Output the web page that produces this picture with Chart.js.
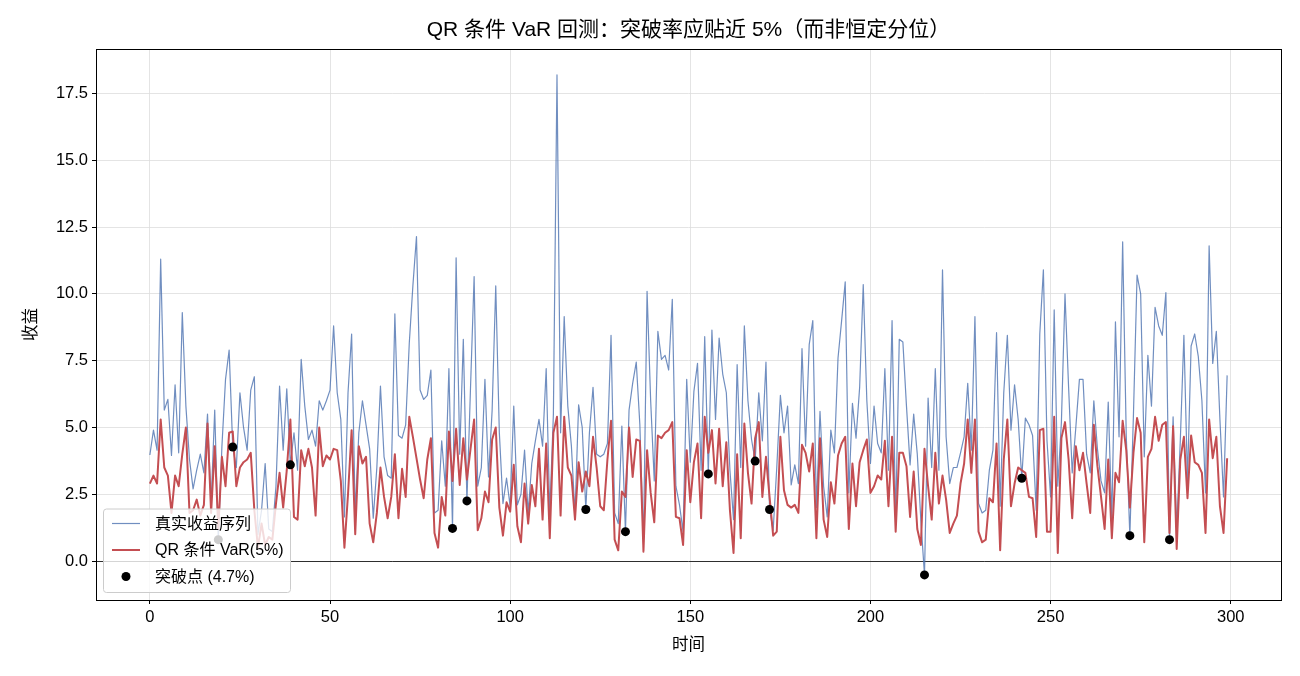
<!DOCTYPE html>
<html>
<head>
<meta charset="utf-8">
<script src="https://cdn.jsdelivr.net/npm/chart.js@4.4.1/dist/chart.umd.min.js"></script>
<style>
  html, body { margin: 0; padding: 0; background: #fff; }
  canvas { display: block; }
</style>
</head>
<body>
<canvas id="chart" width="1300" height="676"></canvas>
<script>
// 真实收益序列 (index 0..299)
const actual = [
  3.97, 4.9, 4.15, 11.3, 5.65, 6.05, 3.95, 6.6, 4.05, 9.3,
  5.8, 3.8, 2.7, 3.4, 4.0, 3.3, 5.5, 2.15, 5.65, 0.8,
  4.3, 6.8, 7.9, 4.27, 3.5, 6.3, 5.0, 4.15, 6.4, 6.9,
  1.0, 1.9, 3.65, 1.2, 1.1, 2.8, 6.55, 4.15, 6.45, 3.6,
  4.8, 3.4, 7.55, 5.8, 4.55, 4.9, 4.3, 6.0, 5.65, 6.0,
  6.4, 8.8, 6.3, 5.3, 1.65, 6.3, 8.5, 1.8, 4.8, 6.0,
  5.1, 4.2, 1.6, 3.5, 6.55, 3.9, 3.2, 3.1, 9.25, 4.7,
  4.6, 5.1, 8.15, 10.3, 12.15, 6.4, 6.05, 6.2, 7.15, 1.8,
  1.9, 4.5, 2.8, 7.2, 1.22, 11.35, 4.0, 8.3, 2.25, 6.5,
  10.65, 2.8, 3.5, 6.8, 3.15, 5.65, 10.3, 4.8, 2.15, 3.1,
  2.05, 5.8, 2.1, 2.5, 4.15, 1.8, 3.65, 4.5, 5.3, 4.3,
  7.2, 1.8, 5.5, 18.2, 4.8, 9.15, 5.8, 4.3, 1.75, 5.85,
  5.0, 1.93, 4.8, 6.5, 4.0, 3.9, 4.0, 4.4, 8.45, 1.8,
  1.4, 5.05, 1.1, 5.65, 6.65, 7.45, 5.1, 0.7, 10.1, 6.0,
  3.0, 8.6, 7.55, 7.7, 7.15, 9.8, 2.8, 2.1, 1.1, 6.8,
  3.7, 6.35, 7.4, 3.4, 8.4, 3.26, 8.65, 5.3, 8.35, 7.0,
  6.3, 3.4, 1.55, 7.35, 3.5, 8.8, 6.0, 4.55, 3.74, 6.3,
  4.5, 7.45, 1.93, 1.15, 3.5, 6.2, 4.8, 5.8, 2.85, 3.6,
  2.9, 7.95, 4.3, 8.1, 9.0, 2.0, 5.6, 2.8, 1.65, 4.9,
  4.05, 7.6, 9.0, 10.45, 2.55, 5.9, 4.6, 6.5, 10.35, 6.0,
  3.65, 5.8, 4.4, 4.05, 7.2, 3.4, 9.0, 1.5, 8.3, 8.2,
  5.8, 3.6, 5.5, 4.0, 1.5, -0.52, 6.1, 3.5, 7.2, 3.4,
  10.9, 4.65, 2.9, 3.5, 3.5, 4.05, 4.65, 6.65, 4.15, 9.15,
  2.15, 1.8, 1.9, 3.4, 4.15, 8.55, 2.05, 6.3, 8.45, 4.9,
  6.6, 5.3, 3.1, 5.35, 5.1, 4.7, 1.9, 8.5, 10.9, 4.5,
  2.4, 9.4, 2.8, 5.2, 10.0, 6.5, 3.3, 5.0, 6.8, 6.8,
  4.0, 3.3, 6.0, 4.2, 3.0, 2.55, 5.95, 1.55, 8.95, 4.65,
  11.95, 4.7, 0.95, 5.5, 10.7, 10.0, 3.9, 7.7, 5.8, 9.5,
  8.8, 8.45, 10.05, 0.8, 5.4, 1.2, 4.5, 8.45, 3.0, 8.05,
  8.5, 7.65, 6.0, 2.55, 11.8, 7.4, 8.6, 5.3, 2.4, 6.95
];

// QR 条件 VaR(5%)
const varQ = [
  2.9, 3.2, 2.9, 5.3, 3.5, 3.2, 1.8, 3.2, 2.8, 4.0,
  5.0, 1.8, 1.9, 2.3, 1.7, 2.1, 5.15, 1.8, 4.3, 1.2,
  3.9, 2.8, 4.8, 4.85, 2.8, 3.5, 3.7, 3.8, 4.05, 1.9,
  0.5, 1.4, 0.6, 0.9, 0.8, 2.15, 3.3, 2.0, 3.4, 5.3,
  1.65, 1.55, 4.15, 3.55, 4.2, 3.5, 1.7, 5.0, 3.55, 3.95,
  3.8, 4.2, 4.15, 3.0, 0.5, 2.5, 4.9, 1.0, 4.3, 3.65,
  3.9, 1.4, 0.7, 1.8, 3.5, 2.4, 1.6, 2.4, 4.0, 1.6,
  3.45, 2.4, 5.4, 4.65, 3.85, 3.05, 2.35, 3.8, 4.6, 1.05,
  0.5, 2.4, 1.7, 4.85, 3.0, 4.95, 2.85, 4.6, 3.05, 4.2,
  5.3, 1.15, 1.6, 2.6, 2.2, 4.55, 5.0, 2.0, 0.95, 2.2,
  1.85, 3.6, 1.3, 0.7, 2.9, 1.4, 2.85, 2.05, 4.2, 1.55,
  4.4, 0.85, 4.8, 5.4, 1.7, 5.4, 3.5, 3.2, 1.55, 3.7,
  2.6, 3.35, 2.8, 4.65, 3.5, 2.05, 1.9, 3.8, 5.25, 0.8,
  0.4, 2.6, 2.4, 5.0, 3.15, 4.55, 4.5, 0.35, 4.15, 2.55,
  1.45, 4.7, 4.6, 4.8, 4.9, 5.2, 1.65, 1.6, 0.6, 4.15,
  2.2, 3.7, 4.4, 1.6, 5.4, 4.05, 4.9, 2.9, 4.95, 2.8,
  4.45, 1.9, 0.3, 4.0, 0.85, 5.15, 3.3, 2.15, 4.6, 5.2,
  2.4, 3.9, 2.4, 0.95, 1.1, 4.65, 2.65, 2.1, 2.0, 2.1,
  1.8, 4.35, 4.05, 3.35, 4.4, 0.85, 4.6, 1.55, 0.9, 2.95,
  2.15, 3.95, 4.4, 4.65, 1.2, 3.65, 2.05, 3.7, 4.15, 4.55,
  2.55, 2.8, 3.2, 3.05, 4.5, 2.05, 4.65, 1.1, 4.05, 4.05,
  3.55, 1.65, 3.35, 1.2, 0.6, 4.2, 2.8, 1.55, 4.05, 2.15,
  3.2, 2.3, 1.05, 1.4, 1.7, 2.9, 3.65, 5.3, 3.3, 5.3,
  1.1, 0.7, 0.8, 2.35, 2.2, 4.4, 0.4, 3.8, 5.3, 2.05,
  2.9, 3.5, 3.4, 3.3, 2.4, 2.35, 0.9, 4.9, 4.95, 1.1,
  1.1, 5.4, 0.3, 4.6, 5.2, 3.8, 1.6, 4.3, 3.4, 4.05,
  2.9, 1.8, 5.1, 3.55, 2.4, 1.2, 3.8, 0.85, 3.3, 2.95,
  5.25, 4.15, 2.0, 4.05, 5.35, 4.8, 0.7, 3.9, 4.2, 5.4,
  4.5, 5.1, 5.2, 1.05, 5.05, 0.45, 3.8, 4.65, 2.35, 4.7,
  3.7, 3.6, 3.3, 1.05, 5.3, 3.85, 4.65, 2.05, 1.05, 3.85
];

const xTicks = [0, 50, 100, 150, 200, 250, 300];
const yTicks = [0, 2.5, 5, 7.5, 10, 12.5, 15, 17.5];

const FONT = "'Liberation Sans', 'Noto Sans CJK SC', sans-serif";

// 突破点: actual return below the VaR line
const actualPts = actual.map((v, i) => ({ x: i, y: v }));
const varPts = varQ.map((v, i) => ({ x: i, y: v }));
const breachPts = actualPts.filter((p, i) => p.y < varQ[i]);
const breachRate = (breachPts.length / actual.length * 100).toFixed(1);

// zero line + frame
const framePlugin = {
  id: 'frame',
  beforeDatasetsDraw(chart) {
    const { ctx, chartArea: a, scales } = chart;
    const y0 = Math.round(scales.y.getPixelForValue(0)) + 0.5;
    ctx.save();
    ctx.strokeStyle = '#000';
    ctx.lineWidth = 0.8;
    ctx.beginPath();
    ctx.moveTo(a.left, y0);
    ctx.lineTo(a.right, y0);
    ctx.stroke();
    ctx.restore();
  },
  afterDraw(chart) {
    const { ctx, chartArea: a } = chart;
    ctx.save();
    ctx.strokeStyle = '#000';
    ctx.lineWidth = 1;
    ctx.strokeRect(Math.round(a.left) + 0.5, Math.round(a.top) + 0.5,
      Math.round(a.right - a.left), Math.round(a.bottom - a.top));
    ctx.restore();
  }
};

// matplotlib style legend, lower left inside the axes
const legendPlugin = {
  id: 'mplLegend',
  afterDatasetsDraw(chart) {
    const { ctx, chartArea: a } = chart;
    const sets = chart.data.datasets.slice().sort((p, q) => q.order - p.order);
    const x = a.left + 7, w = 187, rowH = 26.5;
    const h = rowH * sets.length + 4;
    const y = a.bottom - 8 - h;
    ctx.save();
    ctx.beginPath();
    ctx.roundRect(x + 0.5, y + 0.5, w, h, 3);
    ctx.fillStyle = 'rgba(255,255,255,0.8)';
    ctx.fill();
    ctx.strokeStyle = '#cccccc';
    ctx.lineWidth = 1;
    ctx.stroke();
    ctx.font = '16px ' + FONT;
    ctx.textBaseline = 'middle';
    sets.forEach((ds, i) => {
      const cy = y + 15 + i * rowH;
      if (ds.showLine === false) {
        ctx.beginPath();
        ctx.arc(x + 23, cy, 4.5, 0, Math.PI * 2);
        ctx.fillStyle = ds.backgroundColor;
        ctx.fill();
      } else {
        ctx.beginPath();
        ctx.moveTo(x + 9, cy);
        ctx.lineTo(x + 37, cy);
        ctx.strokeStyle = ds.borderColor;
        ctx.lineWidth = ds.borderWidth;
        ctx.stroke();
      }
      ctx.fillStyle = '#000';
      ctx.fillText(ds.label, x + 52, cy + 1);
    });
    ctx.restore();
  }
};

new Chart(document.getElementById('chart'), {
  type: 'line',
  data: {
    datasets: [
      {
        label: '真实收益序列',
        data: actualPts,
        borderColor: 'rgba(76,114,176,0.8)',
        borderWidth: 1.2,
        pointRadius: 0,
        tension: 0,
        borderJoinStyle: 'round',
        order: 3
      },
      {
        label: 'QR 条件 VaR(5%)',
        data: varPts,
        borderColor: '#c44e52',
        borderWidth: 2,
        pointRadius: 0,
        tension: 0,
        borderJoinStyle: 'round',
        order: 2
      },
      {
        label: `突破点 (${breachRate}%)`,
        data: breachPts,
        showLine: false,
        pointRadius: 4.5,
        pointBackgroundColor: '#000',
        pointBorderWidth: 0,
        backgroundColor: '#000',
        borderColor: '#000',
        order: 1
      }
    ]
  },
  options: {
    responsive: false,
    animation: false,
    devicePixelRatio: 1,
    layout: { padding: { left: 0, right: 19, top: 0, bottom: 0 } },
    plugins: {
      legend: { display: false },
      tooltip: { enabled: false },
      title: {
        display: true,
        fullSize: false,
        text: 'QR 条件 VaR 回测：突破率应贴近 5%（而非恒定分位）',
        color: '#000',
        font: { family: FONT, size: 21, weight: 'normal' },
        padding: { top: 18, bottom: 5.8 }
      }
    },
    scales: {
      x: {
        type: 'linear',
        min: -14.95,
        max: 313.95,
        afterFit(s) { s.height = 76; },
        afterBuildTicks(s) { s.ticks = xTicks.map(v => ({ value: v })); },
        grid: { color: '#dddddd', lineWidth: 0.8, tickColor: '#000', tickLength: 4, tickWidth: 1 },
        border: { display: false },
        ticks: {
          color: '#000',
          padding: 4,
          maxRotation: 0,
          font: { family: FONT, size: 16.5 },
          callback: v => String(v)
        },
        title: {
          display: true,
          text: '时间',
          color: '#000',
          font: { family: FONT, size: 16.5 },
          padding: { top: 4, bottom: 21 }
        }
      },
      y: {
        type: 'linear',
        min: -1.46,
        max: 19.17,
        afterFit(s) { s.width = 96; },
        afterBuildTicks(s) { s.ticks = yTicks.map(v => ({ value: v })); },
        grid: { color: '#dddddd', lineWidth: 0.8, tickColor: '#000', tickLength: 4, tickWidth: 1 },
        border: { display: false },
        ticks: {
          color: '#000',
          padding: 4,
          font: { family: FONT, size: 16.5 },
          callback: v => Number(v).toFixed(1)
        },
        title: {
          display: true,
          text: '收益',
          color: '#000',
          font: { family: FONT, size: 16.5 },
          padding: { top: 22, bottom: 0 }
        }
      }
    }
  },
  plugins: [framePlugin, legendPlugin]
});
</script>
</body>
</html>
